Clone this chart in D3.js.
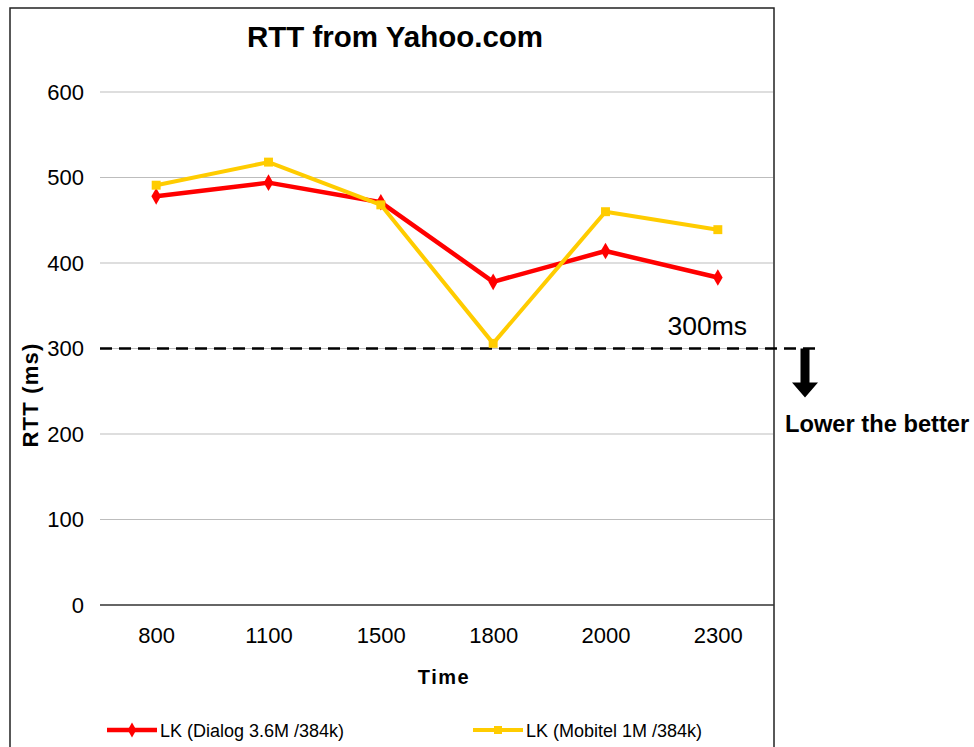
<!DOCTYPE html>
<html>
<head>
<meta charset="utf-8">
<script src="https://cdn.jsdelivr.net/npm/d3@7"></script>
<style>
  html, body { margin: 0; padding: 0; background: #fff; }
  svg { display: block; font-family: "Liberation Sans", Arial, sans-serif; }
</style>
</head>
<body>
<svg id="chart" width="974" height="747"></svg>
<script>
const categories = ["800", "1100", "1500", "1800", "2000", "2300"];
const dialogValues = [478, 494, 471, 378, 414, 383];
const mobitelValues = [491, 518, 468, 306, 460, 439];
const yTicks = [0, 100, 200, 300, 400, 500, 600];
const seriesNames = ["LK (Dialog 3.6M /384k)", "LK (Mobitel 1M /384k)"];
const thresholdValue = 300;
const thresholdLabel = "300ms";
const noteLabel = "Lower the better";
const titleText = "RTT from Yahoo.com";
const xTitle = "Time";
const yTitle = "RTT (ms)";

(function () {
const svg = d3.select("#chart");
const plotLeft = 100, plotRight = 774, plotTop = 92, plotBottom = 605;

const x = d3.scalePoint().domain(categories).range([plotLeft, plotRight]).padding(0.5);
const y = d3.scaleLinear().domain([0, 600]).range([plotBottom, plotTop]);

// outer frame
svg.append("rect").attr("x", 10).attr("y", 8).attr("width", 764).attr("height", 780)
  .attr("fill", "none").attr("stroke", "#222").attr("stroke-width", 1.5);

// gridlines
svg.append("g").selectAll("line").data(yTicks.filter(d => d > 0)).join("line")
  .attr("x1", plotLeft).attr("x2", plotRight - 1)
  .attr("y1", d => y(d)).attr("y2", d => y(d))
  .attr("stroke", "#bdbdbd").attr("stroke-width", 1);

// y axis labels
const yAxis = d3.axisLeft(y).tickValues(yTicks).tickSize(0).tickPadding(16);
const gy = svg.append("g").attr("transform", `translate(${plotLeft},0)`).call(yAxis);
gy.select(".domain").remove();
gy.selectAll("text").attr("font-size", 22).attr("fill", "#000")
  .attr("font-family", "Liberation Sans, Arial, sans-serif");

// x axis
const xAxis = d3.axisBottom(x).tickSize(0).tickPadding(22);
const gx = svg.append("g").attr("transform", `translate(0,${plotBottom})`).call(xAxis);
gx.select(".domain").attr("stroke", "#333").attr("stroke-width", 1.5)
  .attr("d", `M${plotLeft},0H${plotRight}`);
gx.selectAll("text").attr("font-size", 22).attr("fill", "#000")
  .attr("font-family", "Liberation Sans, Arial, sans-serif");

// title
svg.append("text").attr("x", 395).attr("y", 47).attr("text-anchor", "middle")
  .attr("font-size", 29.5).attr("font-weight", "bold").text(titleText);

// axis titles
svg.append("text").attr("x", 444).attr("y", 684).attr("text-anchor", "middle")
  .attr("font-size", 20).attr("font-weight", "bold").attr("letter-spacing", 1.5).text(xTitle);
svg.append("text").attr("transform", "translate(38,395) rotate(-90)").attr("text-anchor", "middle")
  .attr("font-size", 22).attr("font-weight", "bold").attr("letter-spacing", 1.2).text(yTitle);

// threshold line
const ay = y(thresholdValue);
svg.append("line").attr("x1", plotLeft).attr("x2", 816)
  .attr("y1", ay).attr("y2", ay)
  .attr("stroke", "#000").attr("stroke-width", 2.5).attr("stroke-dasharray", "12,7");
svg.append("text").attr("x", 747).attr("y", 335).attr("text-anchor", "end")
  .attr("font-size", 26.5).text(thresholdLabel);

// arrow
svg.append("path")
  .attr("d", `M800.5,${ay}H809.5V${ay + 34}H818L805,${ay + 49}L792,${ay + 34}H800.5Z`)
  .attr("fill", "#000");
svg.append("text").attr("x", 785).attr("y", 432)
  .attr("font-size", 23.7).attr("font-weight", "bold").text(noteLabel);

// series
const line = d3.line().x((d, i) => x(categories[i])).y(d => y(d));
const series = [
  { name: seriesNames[0], values: dialogValues, color: "#ff0000", width: 4.5, marker: d3.symbolDiamond, msize: 80 },
  { name: seriesNames[1], values: mobitelValues, color: "#ffcc00", width: 4, marker: d3.symbolSquare, msize: 80 }
];

series.forEach(s => {
  svg.append("path").datum(s.values).attr("d", line)
    .attr("fill", "none").attr("stroke", s.color).attr("stroke-width", s.width)
    .attr("stroke-linejoin", "round");
  svg.append("g").selectAll("path").data(s.values).join("path")
    .attr("transform", (d, i) => `translate(${x(categories[i])},${y(d)})`)
    .attr("d", d3.symbol().type(s.marker).size(s.msize)())
    .attr("fill", s.color);
});

// legend
const legendY = 730;
const legendItems = [
  { s: series[0], x0: 107, x1: 157, tx: 160 },
  { s: series[1], x0: 473, x1: 523, tx: 526 }
];
legendItems.forEach(it => {
  const g = svg.append("g");
  g.append("line").attr("x1", it.x0).attr("x2", it.x1).attr("y1", legendY).attr("y2", legendY)
    .attr("stroke", it.s.color).attr("stroke-width", it.s.width);
  g.append("path").attr("transform", `translate(${(it.x0 + it.x1) / 2},${legendY})`)
    .attr("d", d3.symbol().type(it.s.marker).size(64)())
    .attr("fill", it.s.color);
  g.append("text").attr("x", it.tx).attr("y", legendY + 7).attr("font-size", 18)
    .text(it.s.name);
});
})();
</script>
</body>
</html>
